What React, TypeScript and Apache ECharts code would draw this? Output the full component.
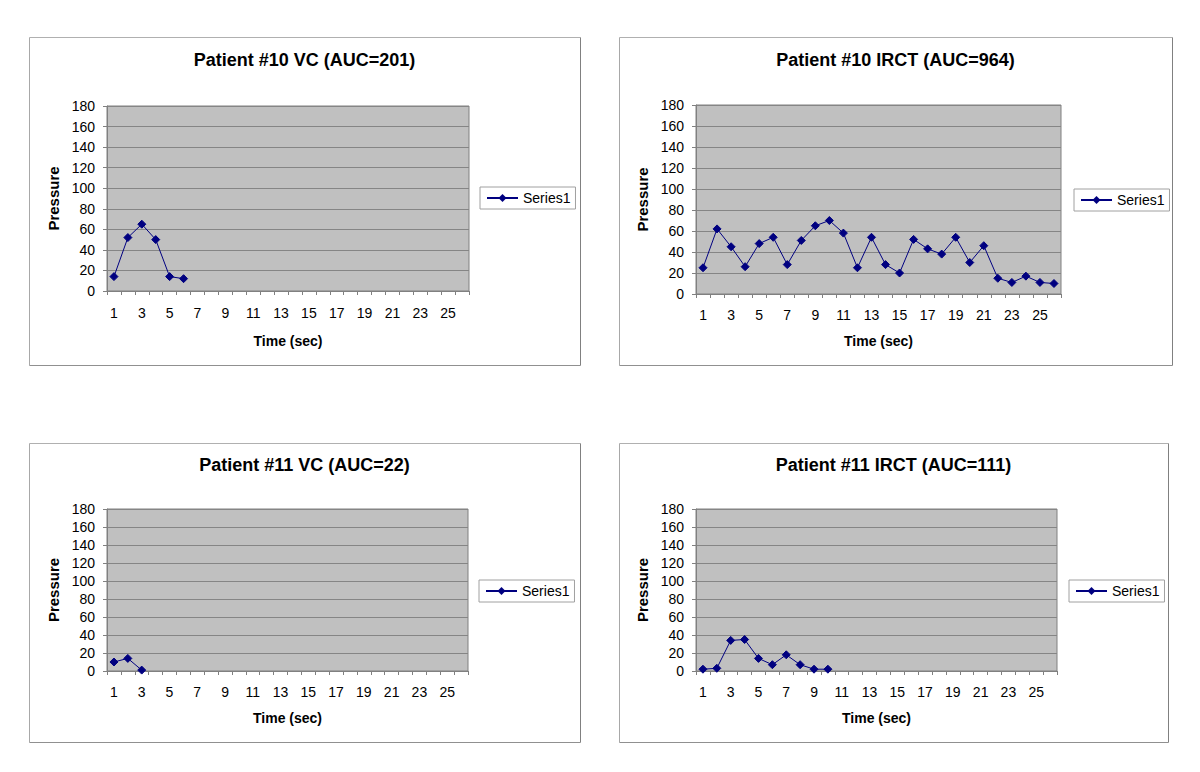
import React, { useEffect, useRef } from "react";
import * as echarts from "echarts";

// ---- data ----
const categories = [
  "1", "2", "3", "4", "5", "6", "7", "8", "9", "10", "11", "12", "13",
  "14", "15", "16", "17", "18", "19", "20", "21", "22", "23", "24", "25", "26",
];
const p10VC = [14, 52, 65, 50, 14, 12];
const p10IRCT = [
  25, 62, 45, 26, 48, 54, 28, 51, 65, 70, 58, 25, 54, 28, 20, 52, 43, 38, 54, 30,
  46, 15, 11, 17, 11, 10,
];
const p11VC = [10, 14, 1];
const p11IRCT = [2, 3, 34, 35, 14, 7, 18, 7, 2, 2];

const titles = [
  "Patient #10 VC (AUC=201)",
  "Patient #10 IRCT (AUC=964)",
  "Patient #11 VC (AUC=22)",
  "Patient #11 IRCT (AUC=111)",
];
const seriesName = "Series1";
const xTitle = "Time (sec)";
const yTitle = "Pressure";
const yMin = 0;
const yMax = 180;
const yStep = 20;

const seriesData = [p10VC, p10IRCT, p11VC, p11IRCT];

// ---- layout ----
const layout = [
  { box: [29, 37, 580, 365], grid: { left: 107, top: 106, width: 362, height: 185 }, titleY: 60, legend: { left: 480, top: 187 }, xMargin: 15, xGap: 43 },
  { box: [619, 37, 1172, 365], grid: { left: 696, top: 105, width: 365, height: 189 }, titleY: 60, legend: { left: 1074, top: 189 }, xMargin: 14, xGap: 40 },
  { box: [29, 443, 580, 742], grid: { left: 107, top: 509, width: 361, height: 162 }, titleY: 465, legend: { left: 479, top: 580 }, xMargin: 14, xGap: 40 },
  { box: [619, 443, 1168, 742], grid: { left: 696, top: 509, width: 361, height: 162 }, titleY: 465, legend: { left: 1069, top: 580 }, xMargin: 14, xGap: 40 },
];

const FONT = '"Liberation Sans", Arial, sans-serif';
const NAVY = "#000080";

export default function App() {
  const ref = useRef<HTMLDivElement>(null);
  useEffect(() => {
    if (!ref.current) return;
    const chart = echarts.init(ref.current, undefined, { renderer: "svg" });

    const graphic: any[] = [];
    layout.forEach((l, i) => {
      const [x0, y0, x1, y1] = l.box;
      graphic.push({
        type: "line",
        shape: { x1: x0 + 0.5, y1: y0 + 0.5, x2: x1 + 0.5, y2: y0 + 0.5 },
        style: { stroke: "#b0b0b0", lineWidth: 1 },
        silent: true,
      });
      graphic.push({
        type: "line",
        shape: { x1: x0 + 0.5, y1: y0 + 0.5, x2: x0 + 0.5, y2: y1 + 0.5 },
        style: { stroke: "#a8a8a8", lineWidth: 1 },
        silent: true,
      });
      graphic.push({
        type: "line",
        shape: { x1: x1 + 0.5, y1: y0 + 0.5, x2: x1 + 0.5, y2: y1 + 0.5 },
        style: { stroke: "#808080", lineWidth: 1 },
        silent: true,
      });
      graphic.push({
        type: "line",
        shape: { x1: x0 + 0.5, y1: y1 + 0.5, x2: x1 + 0.5, y2: y1 + 0.5 },
        style: { stroke: "#909090", lineWidth: 1 },
        silent: true,
      });
      graphic.push({
        type: "text",
        x: (x0 + x1) / 2,
        y: l.titleY,
        style: {
          text: titles[i],
          font: `bold 18px ${FONT}`,
          fill: "#000",
          align: "center",
          verticalAlign: "middle",
        },
        silent: true,
      });
    });

    const option: any = {
      animation: false,
      backgroundColor: "#ffffff",
      graphic,
      legend: layout.map((l) => ({
        data: [seriesName],
        left: l.legend.left,
        top: l.legend.top,
        orient: "vertical",
        padding: [4, 5, 4, 6],
        itemWidth: 31,
        itemHeight: 10,
        backgroundColor: "#ffffff",
        borderColor: "#a0a0a0",
        borderWidth: 1,
        borderRadius: 0,
        selectedMode: false,
        textStyle: { fontSize: 14, fontFamily: FONT, color: "#000" },
      })),
      grid: layout.map((l) => ({
        ...l.grid,
        show: true,
        backgroundColor: "#c0c0c0",
        borderColor: "#808080",
        borderWidth: 1,
        containLabel: false,
      })),
      xAxis: layout.map((l, i) => ({
        type: "category",
        gridIndex: i,
        data: categories,
        boundaryGap: true,
        name: xTitle,
        nameLocation: "middle",
        nameGap: l.xGap,
        nameTextStyle: { fontSize: 14, fontWeight: "bold", fontFamily: FONT, color: "#000" },
        axisLine: { show: true, lineStyle: { color: "#808080", width: 1 } },
        axisTick: { show: true, interval: 0, length: 4, lineStyle: { color: "#808080" } },
        axisLabel: { interval: 1, margin: l.xMargin, fontSize: 14, fontFamily: FONT, color: "#000" },
        splitLine: { show: false },
      })),
      yAxis: layout.map((l, i) => ({
        type: "value",
        gridIndex: i,
        min: yMin,
        max: yMax,
        interval: yStep,
        name: yTitle,
        nameLocation: "middle",
        nameGap: 46,
        nameTextStyle: { fontSize: 15, fontWeight: "bold", fontFamily: FONT, color: "#000" },
        axisLine: { show: true, lineStyle: { color: "#808080", width: 1 } },
        axisTick: { show: true, length: 4, lineStyle: { color: "#808080" } },
        axisLabel: { margin: 12, fontSize: 14, fontFamily: FONT, color: "#000" },
        splitLine: { show: true, lineStyle: { color: "#858585", width: 1 } },
      })),
      series: seriesData.map((d, i) => ({
        name: seriesName,
        type: "line",
        xAxisIndex: i,
        yAxisIndex: i,
        data: d,
        symbol: "diamond",
        symbolSize: 8,
        showSymbol: true,
        lineStyle: { color: NAVY, width: 1 },
        itemStyle: { color: NAVY, borderColor: NAVY },
        emphasis: { disabled: true },
      })),
    };
    chart.setOption(option);
    return () => chart.dispose();
  }, []);

  return (
    <div
      ref={ref}
      style={{ position: "absolute", left: 0, top: 0, width: 1200, height: 772, background: "#fff" }}
    />
  );
}
